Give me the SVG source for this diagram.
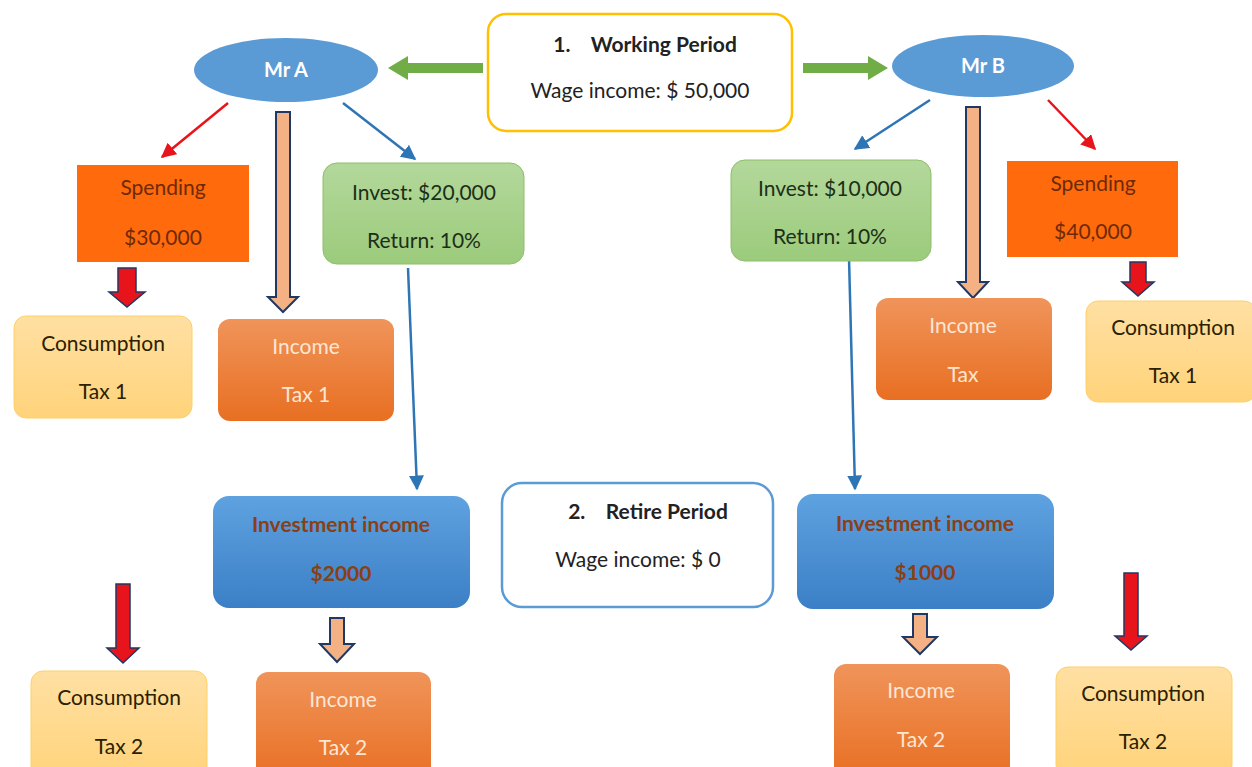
<svg xmlns="http://www.w3.org/2000/svg" width="1252" height="767" viewBox="0 0 1252 767">
<defs>
<linearGradient id="gOr" x1="0" y1="0" x2="0" y2="1"><stop offset="0" stop-color="#F0945A"/><stop offset="1" stop-color="#E86F22"/></linearGradient>
<linearGradient id="gYe" x1="0" y1="0" x2="0" y2="1"><stop offset="0" stop-color="#FFE0A3"/><stop offset="1" stop-color="#FFD37A"/></linearGradient>
<linearGradient id="gGr" x1="0" y1="0" x2="0" y2="1"><stop offset="0" stop-color="#B3D89B"/><stop offset="1" stop-color="#9CCB7C"/></linearGradient>
<linearGradient id="gBl" x1="0" y1="0" x2="0" y2="1"><stop offset="0" stop-color="#5FA2E0"/><stop offset="1" stop-color="#3B7FC6"/></linearGradient>
<marker id="mRed" viewBox="0 0 10 10" refX="9" refY="5" markerWidth="6" markerHeight="6" orient="auto"><path d="M0,0 L10,5 L0,10 z" fill="#E8141B"/></marker>
<marker id="mBlue" viewBox="0 0 10 10" refX="9" refY="5" markerWidth="6" markerHeight="6" orient="auto"><path d="M0,0 L10,5 L0,10 z" fill="#2E75B6"/></marker>
</defs>
<style>
text{font-family:Lato,"Open Sans","Liberation Sans",sans-serif;font-size:21px;text-anchor:middle}
.b{font-weight:bold}
.dk{fill:#222}
.sp{fill:#6E2A05}
.gt{fill:#1C2F18}
.ct{fill:#2B2100}
.it{fill:#FDE6D4}
.iv{fill:#8A3F14;font-weight:bold}
.wh{fill:#fff}
.red{stroke:#E8141B;stroke-width:2.5;fill:none;marker-end:url(#mRed)}
.blu{stroke:#2E75B6;stroke-width:2.5;fill:none;marker-end:url(#mBlue)}
.hol{fill:#F4B183;stroke:#1F3864;stroke-width:2}
.rdown{fill:#E8141B;stroke:#1F3864;stroke-width:1.5}
.grn{fill:#70AD47}
</style>
<rect width="1252" height="767" fill="#fff"/>

<g id="connectors">
<path class="grn" d="M483,63 L408,63 L408,56 L388,68 L408,80 L408,73 L483,73 z"/>
<path class="grn" d="M803,63 L868,63 L868,56 L888,68 L868,80 L868,73 L803,73 z"/>
<line class="red" x1="228" y1="103" x2="162" y2="157"/>
<line class="blu" x1="343" y1="103" x2="415" y2="159"/>
<path class="hol" d="M276,112 L290,112 L290,297 L298,297 L283,312 L268,297 L276,297 z"/>
<path class="rdown" d="M118,268 L136,268 L136,292 L145,292 L127,307 L109,292 L118,292 z"/>
<line class="blu" x1="408" y1="268" x2="417" y2="489"/>
<path class="hol" d="M330,618 L344,618 L344,644 L354,644 L337,662 L320,644 L330,644 z"/>
<path class="rdown" d="M116,584 L130,584 L130,648 L139,648 L123,663 L107,648 L116,648 z"/>
<line class="blu" x1="930" y1="100" x2="855" y2="149"/>
<path class="hol" d="M966,107 L980,107 L980,282 L988,282 L973,298 L958,282 L966,282 z"/>
<line class="red" x1="1048" y1="100" x2="1095" y2="149"/>
<path class="rdown" d="M1130,262 L1146,262 L1146,282 L1154,282 L1138,296 L1122,282 L1130,282 z"/>
<line class="blu" x1="849" y1="258" x2="855" y2="489"/>
<path class="hol" d="M913,614 L927,614 L927,637 L937,637 L920,654 L903,637 L913,637 z"/>
<path class="rdown" d="M1124,573 L1138,573 L1138,636 L1147,636 L1131,650 L1115,636 L1124,636 z"/>
</g>

<g id="working">
<rect x="488" y="14" width="304" height="117" rx="18" fill="#fff" stroke="#FFC000" stroke-width="2.5"/>
<text class="b dk" x="645" y="52" xml:space="preserve">1.    Working Period</text>
<text class="dk" x="640" y="98">Wage income: $ 50,000</text>
</g>
<g id="retire">
<rect x="502" y="483" width="271" height="124" rx="20" fill="#fff" stroke="#5B9BD5" stroke-width="2.5"/>
<text class="b dk" x="648" y="519" xml:space="preserve">2.    Retire Period</text>
<text class="dk" x="638" y="567">Wage income: $ 0</text>
</g>

<g id="mrA">
<ellipse cx="286" cy="70" rx="92" ry="32" fill="#5B9BD5"/>
<text class="b wh" x="286" y="77" style="font-size:20px">Mr A</text>
</g>
<g id="mrB">
<ellipse cx="983" cy="66" rx="91" ry="31" fill="#5B9BD5"/>
<text class="b wh" x="983" y="73" style="font-size:20px">Mr B</text>
</g>

<g id="spendA">
<rect x="77" y="165" width="172" height="97" fill="#FF6A0D"/>
<text class="sp" x="163" y="195">Spending</text>
<text class="sp" x="163" y="245">$30,000</text>
</g>
<g id="investA">
<rect x="323" y="163" width="201" height="101" rx="14" fill="url(#gGr)" stroke="#8DBE6B" stroke-width="1"/>
<text class="gt" x="424" y="200">Invest: $20,000</text>
<text class="gt" x="424" y="248">Return: 10%</text>
</g>
<g id="consA1">
<rect x="14" y="316" width="178" height="102" rx="12" fill="url(#gYe)" stroke="#FFD066" stroke-width="1"/>
<text class="ct" x="103" y="351">Consumption</text>
<text class="ct" x="103" y="399">Tax 1</text>
</g>
<g id="incA1">
<rect x="218" y="319" width="176" height="102" rx="12" fill="url(#gOr)"/>
<text class="it" x="306" y="354">Income</text>
<text class="it" x="306" y="402">Tax 1</text>
</g>
<g id="invIncA">
<rect x="213" y="496" width="257" height="112" rx="16" fill="url(#gBl)"/>
<text class="iv" x="341" y="532">Investment income</text>
<text class="iv" x="341" y="581">$2000</text>
</g>
<g id="consA2">
<rect x="31" y="671" width="176" height="110" rx="12" fill="url(#gYe)" stroke="#FFD066" stroke-width="1"/>
<text class="ct" x="119" y="705">Consumption</text>
<text class="ct" x="119" y="754">Tax 2</text>
</g>
<g id="incA2">
<rect x="256" y="672" width="175" height="110" rx="12" fill="url(#gOr)"/>
<text class="it" x="343" y="707">Income</text>
<text class="it" x="343" y="755">Tax 2</text>
</g>

<g id="investB">
<rect x="731" y="160" width="200" height="101" rx="14" fill="url(#gGr)" stroke="#8DBE6B" stroke-width="1"/>
<text class="gt" x="830" y="196">Invest: $10,000</text>
<text class="gt" x="830" y="244">Return: 10%</text>
</g>
<g id="spendB">
<rect x="1007" y="161" width="171" height="96" fill="#FF6A0D"/>
<text class="sp" x="1093" y="191">Spending</text>
<text class="sp" x="1093" y="239">$40,000</text>
</g>
<g id="incB1">
<rect x="876" y="298" width="176" height="102" rx="12" fill="url(#gOr)"/>
<text class="it" x="963" y="333">Income</text>
<text class="it" x="963" y="382">Tax</text>
</g>
<g id="consB1">
<rect x="1086" y="301" width="170" height="101" rx="12" fill="url(#gYe)" stroke="#FFD066" stroke-width="1"/>
<text class="ct" x="1173" y="335">Consumption</text>
<text class="ct" x="1173" y="383">Tax 1</text>
</g>
<g id="invIncB">
<rect x="797" y="494" width="257" height="115" rx="16" fill="url(#gBl)"/>
<text class="iv" x="925" y="531">Investment income</text>
<text class="iv" x="925" y="580">$1000</text>
</g>
<g id="incB2">
<rect x="834" y="664" width="176" height="115" rx="12" fill="url(#gOr)"/>
<text class="it" x="921" y="698">Income</text>
<text class="it" x="921" y="747">Tax 2</text>
</g>
<g id="consB2">
<rect x="1056" y="667" width="176" height="110" rx="12" fill="url(#gYe)" stroke="#FFD066" stroke-width="1"/>
<text class="ct" x="1143" y="701">Consumption</text>
<text class="ct" x="1143" y="749">Tax 2</text>
</g>
</svg>
